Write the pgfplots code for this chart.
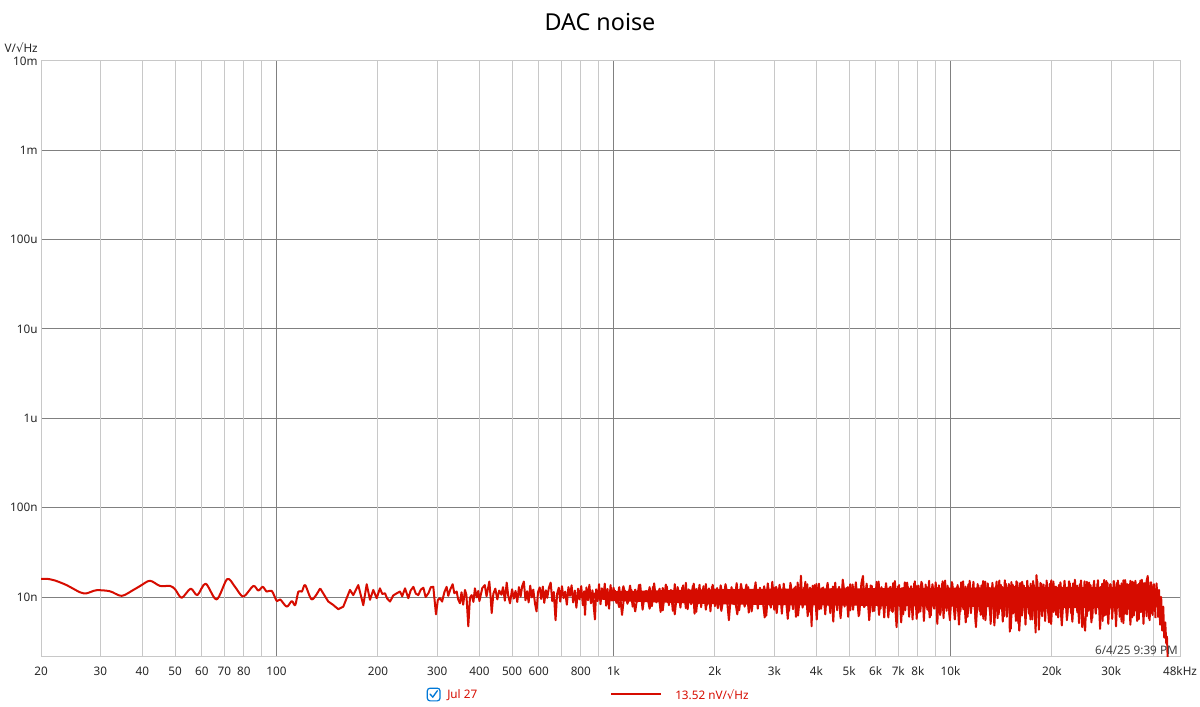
\documentclass[border=0pt]{standalone}
\usepackage{fontspec}
\setmainfont{Noto Sans}
\newfontfamily\dejavu{DejaVu Sans}
\usepackage{pgfplots}
\pgfplotsset{compat=1.18}
\usepackage{pgfplotstable}
\definecolor{trace}{RGB}{214,12,0}
\definecolor{majgrid}{RGB}{128,128,128}
\definecolor{mingrid}{RGB}{200,200,200}
\definecolor{winblue}{RGB}{0,120,215}
\newcommand{\sq}{{\dejavu √}}

\pgfplotstableread{
f v
20 15.9
20.8 16.0
22.0 15.3
23.8 13.6
26.1 11.3
27.3 11.0
29.2 11.9
32.0 11.6
34.7 10.3
37.6 12.0
39.4 13.3
42.1 15.2
45.1 13.3
48.3 13.3
50.0 12.2
52.3 9.8
55.6 12.4
58.2 10.5
61.6 14.1
66.4 9.4
71.4 15.9
75.3 13.0
79.7 10.1
85.3 13.3
88.3 11.8
91.0 13.0
93.5 11.5
96.8 11.7
100.2 9.0
102.5 9.4
107.2 7.8
111.0 9.0
113.6 8.1
116.1 11.5
118.9 11.5
121.6 13.6
127.3 9.4
134.7 12.5
}\lowdata

% core of the noise band (upper edge forward, lower edge back)
\pgfplotstableread{
f v
800 10.9
1000 11.6
1500 12.0
2000 12.2
3000 12.4
5000 12.5
10000 12.7
20000 13.0
40000 13.0
41000 12.0
41000 7.8
40000 7.6
20000 7.5
10000 7.8
5000 8.0
3000 8.1
2000 8.3
1000 9.0
800 10.0
}\coredata

\pgfplotstableread{
f v
134.7 12.5
142.4 8.9
147 8.2
152.5 7.3
157.8 7.8
165.2 12.0
168.9 10.5
174.8 13.6
180.9 8.1
185.2 13.9
189.4 9.3
193.7 12.0
198.2 9.7
202.7 12.5
206 10.8
209.8 11.0
213 9.6
217.2 8.9
222 10.4
227.3 11.0
232.5 11.5
236 10.2
240.6 12.5
246.1 9.7
250 11.8
254.7 13.0
259 10.9
263.5 10.5
268 12.1
272.7 12.7
277 10.0
282.2 11.0
287 12.9
291.9 13.0
297.3 6.4
301 9.2
305.5 9.7
310 8.9
315 11.4
319.8 13.0
323.3 10.3
328 12.2
333.2 13.9
337 11.0
342.4 11.5
346 9.4
350.2 8.5
354 11.3
358 8.2
362.4 12.0
366 10.6
370.8 4.7
375 9.8
379.4 10.5
384 8.8
388.0 12.5
393 9.9
397 11.7
400 9.0
408 12.6
415 13.6
420 10.2
428 14.9
432 9.8
435 6.6
440 10.9
446 12.4
452 9.4
458 11.8
465 10.6
470 12.9
476 9.1
482 14.5
487 10.4
493 8.5
500 12.2
506 9.6
512 11.7
518 8.8
524 12.9
530 10.1
536 13.3
542 14.9
548 9.2
554 11.6
560 8.7
566 13.4
572 9.9
578 12.1
585 8.4
591 6.9
597 11.3
604 12.8
610 9.5
617 13.1
623 8.6
630 11.9
636 9.8
643 12.6
651 14.5
658 9.0
665 11.4
673 5.5
680 10.8
688 12.7
695 8.9
703 13.2
711 9.7
719 11.5
727 8.2
735 12.9
743 10.3
751 13.5
759 8.7
768 11.8
776 7.6
785 12.4
793 9.4
802 13.2
811 8.1
818 11.6
823 6.3
831 12.8
840 9.2
848 13.7
857 8.5
866 11.9
874 7.7
881 5.6
888 12.2
897 9.0
906 13.9
915 8.3
924 12.5
933 9.6
942 14.1
951 8.0
960 12.3
970 7.4
980 13.6
990 9.1
1000 12.7
1020 8.6
1040 12.9
1060 6.3
1080 11.8
1100 9.0
1120 13.4
1140 7.8
1160 12.1
1180 8.9
1200 13.8
1220 7.2
1240 11.5
1260 9.5
1280 12.9
1300 7.9
1320 14.2
1340 8.7
1360 11.2
1380 6.8
1400 12.6
1420 9.2
1440 13.1
1460 8.1
1480 12.0
1500 7.0
1520 13.9
1540 9.7
1560 11.4
1580 7.6
1600 12.8
1620 8.8
1640 14.4
1660 7.3
1680 11.9
1700 9.9
1720 13.3
1740 6.5
1760 12.3
1780 8.4
1800 13.7
1820 7.7
1840 11.6
1860 9.1
1880 14.0
1900 8.2
1920 12.5
1940 6.9
1960 13.0
1980 9.4
2000 12.2
2040 7.5
2080 13.5
2120 8.9
2160 11.7
2200 5.5
2240 12.9
2280 8.3
2320 14.3
2360 7.1
2400 12.4
2440 9.6
2480 13.8
2520 6.7
2560 11.9
2600 8.7
2640 14.6
2680 7.4
2720 12.7
2760 9.3
2800 13.2
2840 6.2
2880 12.1
2920 8.0
2960 14.8
3000 7.2
3040 13.0
3080 9.0
3120 12.3
3160 6.5
3200 14.1
3240 8.5
3280 11.8
3320 7.0
3360 13.6
3400 8.8
3440 12.6
3480 6.0
3520 14.5
3560 8.2
3600 17.3
3640 7.6
3680 12.8
3720 9.5
3760 13.9
3800 6.8
3840 12.4
3872 4.7
3900 13.4
3950 8.6
4000 14.0
4080 7.3
4160 12.6
4240 9.2
4320 14.4
4400 6.6
4480 13.1
4560 8.4
4640 12.2
4720 5.8
4800 14.7
4880 8.9
4960 12.9
5040 7.1
5120 13.8
5200 9.4
5280 11.9
5360 6.3
5440 14.2
5500 17.2
5560 7.8
5640 12.7
5720 8.1
5800 13.5
5880 6.9
5960 12.3
6040 8.7
6120 14.9
6200 7.4
6280 12.0
6360 5.9
6440 13.6
6520 8.3
6600 12.8
6680 7.0
6760 14.3
6840 9.0
6920 4.6
7000 13.2
7080 7.9
7160 12.5
7240 6.4
7320 14.6
7400 8.6
7480 13.0
7560 7.2
7640 12.4
7720 5.6
7800 14.1
7880 8.8
7960 13.3
8040 6.7
8200 14.8
8360 7.8
8520 12.9
8680 5.9
8840 13.9
9000 8.5
9160 12.6
9320 6.3
9480 15.0
9640 7.6
9800 13.4
9960 5.5
10120 14.2
10280 8.0
10440 12.8
10600 4.9
10760 14.6
10920 7.3
11080 13.1
11240 6.0
11400 15.2
11560 8.2
11720 12.4
11880 5.3
12040 14.0
12200 7.0
12360 13.5
12520 5.7
12680 14.9
12840 7.9
13000 12.7
13160 5.0
13320 14.4
13480 6.8
13640 13.2
13800 5.8
13960 15.3
14120 7.4
14280 12.9
14440 6.1
14600 14.1
14760 7.7
14920 13.6
15000 4.1
15160 14.7
15320 6.5
15480 13.0
15640 5.4
15800 14.5
16000 4.2
16320 14.8
16640 6.9
16960 13.3
17280 5.6
17600 15.1
17900 4.0
18000 17.6
18320 6.4
18640 14.0
18960 7.5
19280 13.7
19600 5.2
19920 15.4
20240 6.8
20560 13.1
20880 5.9
21200 14.6
21520 7.2
21840 13.9
22160 5.5
22480 15.0
22800 6.6
23120 14.2
23440 7.8
23760 13.4
24080 5.1
24400 15.3
24720 6.2
25100 4.2
25400 14.8
25720 7.0
26040 13.6
26360 5.8
26680 15.2
27000 6.7
27320 14.1
27640 7.6
27960 13.0
28280 5.4
28600 15.5
28920 6.3
29240 14.4
29560 7.3
29880 13.8
30200 5.7
30520 15.1
30840 6.9
31160 14.3
31480 7.9
31800 13.5
32200 5.3
32600 15.4
33000 6.5
33400 14.0
33800 7.4
34200 15.2
34600 5.9
35000 14.6
35400 7.1
35800 13.7
36200 5.6
36600 15.3
37000 6.8
37400 14.2
37800 7.7
38200 15.0
38500 17.2
38800 5.8
39200 14.5
39600 6.6
40000 13.8
40400 7.0
40900 14.2
41300 6.0
41600 12.0
41900 4.9
42200 10.0
42500 4.2
42800 7.8
43100 3.5
43400 5.2
43700 3.0
43900 3.6
44100 2.2
44300 1.5
}\noisedata

\pgfplotstableread{
f v
1010 11.9
1040 7.7
1070 13.2
1100 8.4
1130 12.0
1160 6.9
1190 13.6
1220 8.9
1250 11.7
1280 7.4
1310 13.0
1340 9.1
1370 12.4
1400 7.1
1430 13.8
1460 8.6
1490 11.5
1520 6.4
1550 12.9
1580 8.8
1610 13.5
1640 7.5
1670 12.2
1700 8.3
1730 14.1
1760 6.8
1790 12.6
1820 8.7
1850 13.2
1880 7.2
1910 12.0
1940 8.5
1970 13.7
2000 7.9
2030 12.6
2090 7.0
2150 13.9
2210 8.2
2270 12.1
2330 6.4
2390 14.0
2450 7.8
2510 12.9
2570 6.9
2630 13.3
2690 8.4
2750 11.9
2810 5.9
2870 14.2
2930 7.6
2990 12.8
3050 6.6
3110 13.7
3170 8.0
3230 12.2
3290 5.7
3350 14.4
3410 7.3
3470 13.1
3530 6.2
3590 12.5
3650 7.9
3710 14.8
3770 6.1
3830 12.7
3890 7.7
3950 13.6
4010 5.6
4070 14.1
4130 7.4
4190 12.8
4250 6.4
4310 13.5
4370 8.1
4430 12.3
4490 5.3
4550 14.5
4610 7.1
4670 13.0
4730 6.5
4790 15.6
4850 7.8
4910 12.6
4970 6.0
5040 13.9
5140 7.2
5240 14.6
5340 6.1
5440 12.8
5540 7.7
5640 14.1
5740 5.5
5840 13.3
5940 7.0
6040 14.8
6140 6.3
6240 12.9
6340 7.6
6440 14.3
6540 5.9
6640 13.0
6740 6.8
6840 15.1
6940 7.3
7040 13.6
7140 5.2
7240 12.7
7340 7.1
7440 14.5
7540 6.0
7640 13.2
7740 7.5
7840 15.0
7940 5.7
8040 13.4
8140 6.9
8240 14.2
8340 5.4
8440 13.8
8540 7.2
8640 15.2
8740 6.2
8840 12.9
8940 7.4
9040 14.6
9140 5.0
9240 13.5
9340 6.7
9440 14.0
9540 5.8
9640 15.3
9740 7.0
9840 12.8
9940 6.1
10100 14.7
10300 5.6
10500 13.6
10700 6.9
10900 15.0
11100 5.2
11300 13.9
11500 6.6
11700 14.8
11900 4.6
12100 13.4
12300 6.3
12500 15.1
12700 5.5
12900 14.2
13100 6.8
13300 13.3
13500 4.8
13700 14.9
13900 6.4
14100 13.7
14300 5.3
14500 15.4
14700 6.0
14900 14.0
15100 4.4
15300 13.8
15500 6.7
15700 15.0
15900 5.1
16100 14.3
16300 6.2
16500 13.5
16700 4.9
16900 15.2
17100 6.5
17300 14.1
17500 5.6
17700 13.6
17900 6.9
18100 15.0
18300 4.3
18500 14.4
18700 6.1
18900 13.8
19100 5.4
19300 15.3
19500 6.6
19700 14.0
19900 5.0
20200 14.9
20600 6.3
21000 13.7
21400 4.8
21800 15.2
22200 6.0
22600 14.3
23000 5.3
23400 15.6
23800 6.7
24200 13.9
24600 4.6
25000 15.0
25400 6.1
25800 14.5
26200 5.2
26600 13.8
27000 6.5
27400 15.4
27800 4.4
28200 14.1
28600 6.2
29000 15.1
29400 5.0
29800 13.9
30200 6.6
30600 14.8
31000 4.7
31400 15.3
31800 6.0
32200 14.2
32600 5.1
33000 15.5
33400 6.4
33800 13.7
34200 4.9
34600 14.9
35000 6.2
35400 15.2
35800 5.4
36200 14.0
36600 6.8
37000 15.6
37400 5.0
37800 14.4
38200 6.1
38600 15.0
39000 5.5
39400 14.6
39800 6.3
40200 13.9
40600 5.8
}\noisedatab

\begin{document}
\begin{tikzpicture}[x=1pt,y=1pt]
\path[use as bounding box] (0,0) rectangle (900,530.25);
\begin{axis}[
  at={(30.75pt,37.5pt)}, anchor=south west,
  scale only axis, width=854.25pt, height=447pt,
  xmode=log, ymode=log,
  xmin=20, xmax=48000, ymin=2.13, ymax=1e7,
  xtick={100,1000,10000}, xticklabels={100,1k,10k},
  extra x ticks={20,30,40,50,60,70,80,200,300,400,500,600,800,2000,3000,4000,5000,6000,7000,8000,20000,30000,48000},
  extra x tick labels={20,30,40,50,60,70,80,200,300,400,500,600,800,2k,3k,4k,5k,6k,7k,8k,20k,30k,48kHz},
  extra x tick style={grid=major, major grid style={mingrid, line width=0.75pt}},
  minor xtick={90,700,900,9000,40000},
  xmajorgrids, xminorgrids, ymajorgrids,
  major grid style={majgrid, line width=0.75pt},
  minor grid style={mingrid, line width=0.75pt},
  major tick length=0pt, minor tick length=0pt,
  ytick={10,100,1000,10000,100000,1000000,10000000},
  yticklabels={10n,100n,1u,10u,100u,1m,10m},
  yminorticks=false,
  axis line style={mingrid, line width=0.75pt},
  tick label style={font=\fontsize{8.8}{10}\selectfont, text=black!85},
  xticklabel style={yshift=-4pt},
  yticklabel style={xshift=1pt},
]
\addplot[fill=trace, draw=none] table[x=f, y=v] {\coredata};
\addplot[trace, line width=1.5pt, smooth, line join=round] table[x=f, y=v] {\lowdata};
\addplot[trace, line width=1.5pt, line join=round] table[x=f, y=v] {\noisedata};
\addplot[trace, line width=1.5pt, line join=round] table[x=f, y=v] {\noisedatab};
\end{axis}
\node[font=\fontsize{17.5}{20}\selectfont] at (450,513.75) {DAC noise};
\node[anchor=east, inner sep=0pt, font=\fontsize{8.8}{10}\selectfont, text=black!85] at (28.5,494.25) {V/\sq Hz};
\node[anchor=base east, inner sep=0pt, font=\fontsize{8.8}{10}\selectfont, text=black!75] at (883.5,39) {6/4/25 9:39 PM};
\draw[winblue, line width=0.9pt, rounded corners=2pt, fill=white] (320.5,4.6) rectangle (330,14.1);
\draw[winblue, line width=1pt, line cap=round, line join=round] (322.6,9.6) -- (324.6,7.4) -- (328,12.2);
\node[anchor=west, inner sep=0pt, font=\fontsize{8.8}{10}\selectfont, text=trace] at (335.25,9.2) {Jul 27};
\draw[trace, line width=1.5pt] (458.25,9.75) -- (495.75,9.75);
\node[anchor=west, inner sep=0pt, font=\fontsize{8.8}{10}\selectfont, text=trace] at (506.25,9.2) {13.52 nV/\sq Hz};
\end{tikzpicture}
\end{document}
